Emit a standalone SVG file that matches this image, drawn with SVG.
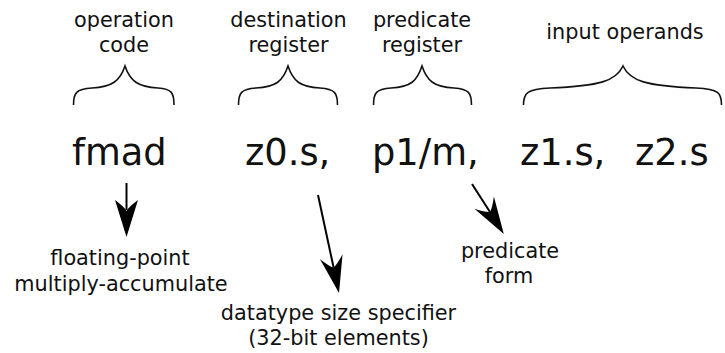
<svg xmlns="http://www.w3.org/2000/svg" width="725" height="353" viewBox="0 0 725 353">
  <style>
    .lbl { font-family: "DejaVu Sans", "Liberation Sans", sans-serif; font-size: 20.8px; fill: #111; text-anchor: middle; }
    .code { font-family: "DejaVu Sans", "Liberation Sans", sans-serif; font-size: 36.8px; fill: #111; }
    .brace { fill: none; stroke: #111; stroke-width: 1.6; }
    .shaft { fill: none; stroke: #000; stroke-width: 2; }
    .head { fill: #000; stroke: none; }
  </style>

  <rect width="725" height="353" fill="#fff"/>

  <!-- opcode -->
  <g id="opcode">
    <text class="lbl" x="124" y="26.5">operation</text>
    <text class="lbl" x="124" y="51.5">code</text>
    <path class="brace" d="M73.5,105 C73.5,93 76,89 92,88 C112,87 120,81 125,66 C130,81 138,87 158,88 C172,89 174,93 174,105"/>
    <text class="code" x="72" y="165">fmad</text>
  </g>

  <!-- destination register -->
  <g id="dest">
    <text class="lbl" x="288.5" y="26.5">destination</text>
    <text class="lbl" x="288.5" y="51.5">register</text>
    <path class="brace" d="M238.5,105 C238.5,93 241,89 256,88 C276,87 283,81 288,66 C293,81 300,87 320,88 C335,89 337.5,93 337.5,105"/>
    <text class="code" x="245" y="165">z0.s,</text>
  </g>

  <!-- predicate register -->
  <g id="pred">
    <text class="lbl" x="422" y="26.5">predicate</text>
    <text class="lbl" x="422" y="51.5">register</text>
    <path class="brace" d="M373.5,105 C373.5,93 376,89 391,88 C411,87 417,81 422,66 C427,81 434,87 454,88 C469,89 471.5,93 471.5,105"/>
    <text class="code" x="372" y="165">p1/m,</text>
  </g>

  <!-- input operands -->
  <g id="inputs">
    <text class="lbl" x="625" y="39">input operands</text>
    <path class="brace" d="M523.5,105 C523.5,93 527,89 550,88 C600,86 616,81 623,66 C630,81 646,86 696,88 C719,89 721.5,93 721.5,105"/>
    <text class="code" x="520" y="165">z1.s,</text>
    <text class="code" x="635" y="165">z2.s</text>
  </g>

  <!-- descriptions -->
  <g id="desc-opcode">
    <text class="lbl" x="120" y="264.5">floating-point</text>
    <text class="lbl" x="121" y="290.5">multiply-accumulate</text>
  </g>
  <g id="desc-size">
    <text class="lbl" x="338.5" y="320">datatype size specifier</text>
    <text class="lbl" x="338.5" y="345">(32-bit elements)</text>
  </g>
  <g id="desc-form">
    <text class="lbl" x="510" y="258">predicate</text>
    <text class="lbl" x="509" y="283">form</text>
  </g>

  <!-- connectors: shaft plus concave arrowhead -->
  <g id="connectors">
    <path class="shaft" d="M126.5,183 L126.5,210"/>
    <path class="head" d="M126.5,237 L115,200 Q124.5,207 126.5,211 Q128.5,207 138,200 Z"/>

    <path class="shaft" d="M318,195 L333.6,267.5"/>
    <path class="head" d="M339,292.9 L320.05,259.14 Q329.27,266.38 333.6,267.5 Q337.09,264.7 342.55,254.34 Z"/>

    <path class="shaft" d="M472,184 L490,212"/>
    <path class="head" d="M503.8,234 L474.42,208.79 Q485.55,212.43 490,212 Q492.33,208.19 493.9,196.57 Z"/>
  </g>
</svg>
